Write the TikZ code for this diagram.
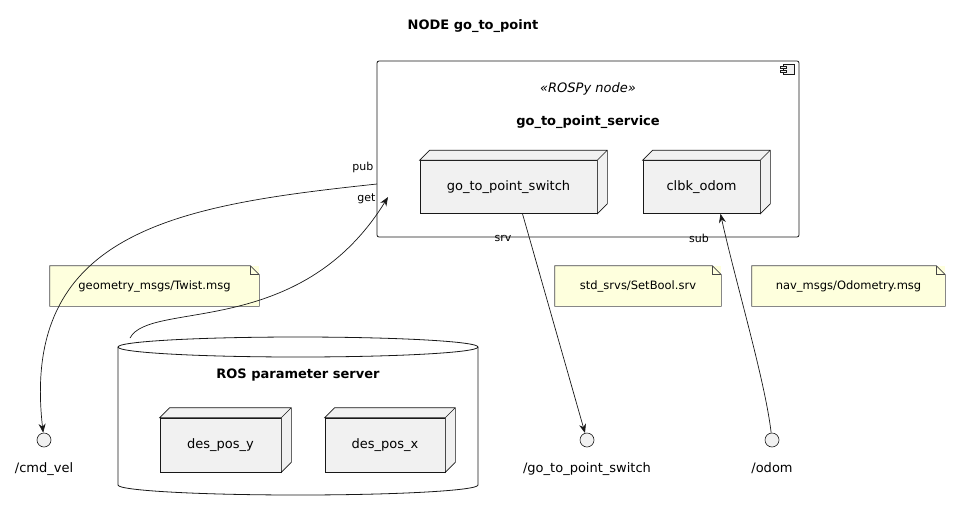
\documentclass[tikz,border=0pt]{standalone}
\usepackage{fontspec}
\setmainfont{DejaVu Sans}
\usetikzlibrary{positioning,arrows.meta,calc}
\definecolor{boxgray}{HTML}{F1F1F1}
\definecolor{notey}{HTML}{FEFFDD}
\definecolor{edgegray}{HTML}{181818}
\tikzset{
  box3d/.style={draw=edgegray,fill=boxgray,minimum height=53pt,font=\fontsize{13}{15}\selectfont},
  depth/.style={draw=edgegray,fill=boxgray,line width=0.6pt},
  note/.style={fill=notey,minimum height=40pt,font=\fontsize{11.5}{13}\selectfont,inner xsep=12pt,align=left},
  iface/.style={circle,draw=edgegray,fill=boxgray,minimum size=14pt,inner sep=0pt},
  lbl/.style={font=\fontsize{11}{13}\selectfont},
  big/.style={font=\fontsize{13}{15}\selectfont},
  conn/.style={draw=edgegray,line width=0.7pt,-{Stealth[length=9pt,width=7pt]}},
  every node/.style={line width=0.6pt}
}
\begin{document}
\begin{tikzpicture}[x=1pt,y=-1pt]
\useasboundingbox (0,0) rectangle (960,512);
\node[font=\bfseries\fontsize{13}{15}\selectfont] (title) at (473,26) {NODE go\_to\_point};
% component
\draw[draw=edgegray,line width=0.8pt,rounded corners=2pt] (377,61) rectangle (799,237);
\draw[draw=edgegray,fill=boxgray,line width=0.6pt] (783,64) rectangle (794,74);
\draw[draw=edgegray,fill=boxgray,line width=0.6pt] (780,66) rectangle (786,68.5) (780,70) rectangle (786,72.5);
\node[font=\itshape\fontsize{13}{15}\selectfont] (stereo) at (588,89) {«ROSPy node»};
\node[font=\bfseries\fontsize{13}{15}\selectfont] (svc) at (588,122) {go\_to\_point\_service};
\node[box3d,minimum width=177pt] (sw) at (508.5,187) {go\_to\_point\_switch};
\node[box3d,minimum width=117pt] (odomcb) at (701.5,187) {clbk\_odom};
\coordinate (pubpt) at (377,184);
\coordinate (getpt) at (388,197);
\node[lbl,anchor=east] (pub) at (377,167) {pub};
\node[lbl,anchor=east] (get) at (379,199) {get};
\node[lbl] (srv) at (503,238) {srv};
\node[lbl] (sub) at (699,238) {sub};
% notes
\node[note,minimum width=209pt] (n1) at (154.5,286) {geometry\_msgs/Twist.msg};
\node[note,minimum width=166pt] (n2) at (638,286) {std\_srvs/SetBool.srv};
\node[note,minimum width=193pt] (n3) at (848.5,286) {nav\_msgs/Odometry.msg};
\foreach \n in {n1,n2,n3}{
  \draw[draw=edgegray!80,line width=0.6pt] (\n.south west) -- (\n.north west) -- ($(\n.north east)+(-9,0)$) -- ($(\n.north east)+(0,9)$) -- (\n.south east) -- cycle;
  \draw[draw=edgegray!80,line width=0.6pt] ($(\n.north east)+(-9,0)$) -- ++(0,9) -- ++(9,0);
}
% parameter server
\draw[draw=edgegray,line width=0.8pt,fill=white] (118,347) -- (118,485) arc[start angle=180,end angle=0,x radius=180,y radius=10] -- (478,347) arc[start angle=0,end angle=-180,x radius=180,y radius=10];
\draw[draw=edgegray,line width=0.8pt] (118,347) arc[start angle=180,end angle=0,x radius=180,y radius=10];
\coordinate (db) at (130,338);
\node[font=\bfseries\fontsize{13}{15}\selectfont] (dbname) at (298,375) {ROS parameter server};
\node[box3d,minimum width=121pt,minimum height=54pt] (py) at (220.5,445) {des\_pos\_y};
\node[box3d,minimum width=120pt,minimum height=54pt] (px) at (385,445) {des\_pos\_x};
% 3d depth of the boxes
\foreach \b in {sw,odomcb,py,px}
  \draw[depth] (\b.north west) -- ++(10,-10) -- ($(\b.north east)+(10,-10)$) -- ($(\b.south east)+(10,-10)$) -- (\b.south east) -- (\b.north east) -- cycle
    (\b.north east) -- ++(10,-10);
% interfaces
\node[iface] (cmd) at (44,440) {};
\node[big,below=12pt of cmd] (cmdl) {/cmd\_vel};
\node[iface] (gsw) at (587,440) {};
\node[big,below=12pt of gsw] (gswl) {/go\_to\_point\_switch};
\node[iface] (odom) at (772,440) {};
\node[big,below=12pt of odom] (odoml) {/odom};
% connectors
\draw[conn] (pubpt) .. controls (180,205) and (20,230) .. (cmd);
\draw[conn] (db) .. controls (150,300) and (300,340) .. (getpt);
\draw[conn] ($(sw.south)+(14,0)$) -- (gsw);
\draw[conn] (odom) .. controls (765,380) and (735,280) .. ($(odomcb.south)+(19,0)$);
\end{tikzpicture}
\end{document}
